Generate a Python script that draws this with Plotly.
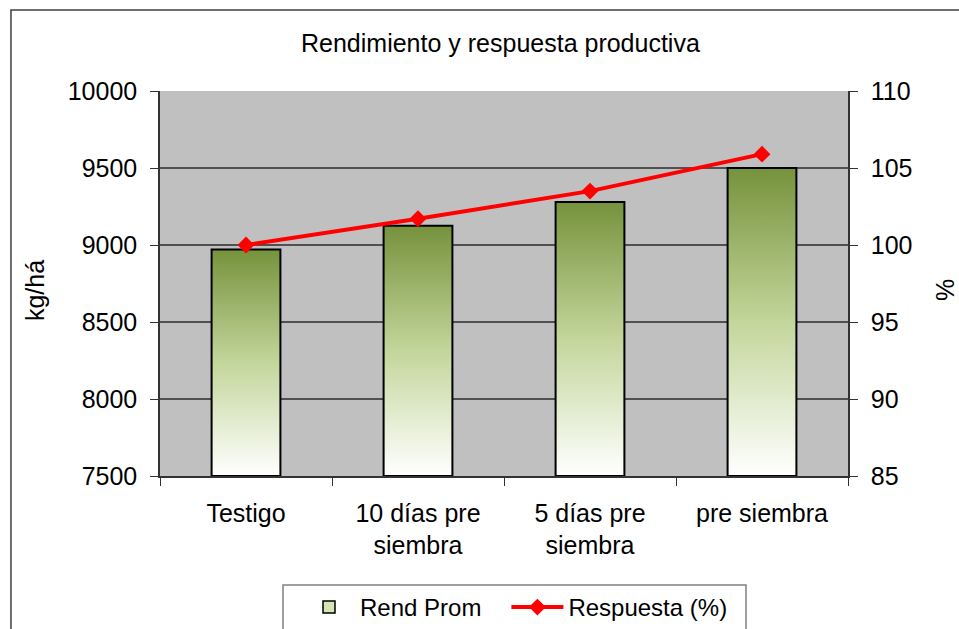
import plotly.graph_objects as go

categories = ["Testigo", "10 días pre<br>siembra", "5 días pre<br>siembra", "pre siembra"]
rend_prom = [8970, 9125, 9280, 9500]
respuesta = [100.0, 101.7, 103.5, 105.9]
y_left_ticks = [7500, 8000, 8500, 9000, 9500, 10000]
y_left_text = ["7500", "8000", "8500", "9000", "9500", "10000"]
y_right_ticks = [85, 90, 95, 100, 105, 110]

BASE = 7500
HALF = 0.2
grad = dict(type="vertical",
            colorscale=[[0, "#FFFFFF"], [0.5, "#C3D69B"], [1, "#76923C"]])

fig = go.Figure()
# legend-only entry for the bars
fig.add_trace(go.Bar(x=[None], y=[None], name="Rend Prom\u00a0\u00a0\u00a0",
                     marker=dict(color="#D5E3B5", line=dict(color="black", width=1.5))))
for i, v in enumerate(rend_prom):
    fig.add_trace(go.Scatter(
        x=[i - HALF, i - HALF, i + HALF, i + HALF, i - HALF],
        y=[BASE, v, v, BASE, BASE],
        mode="lines", fill="toself", fillgradient=grad,
        line=dict(color="black", width=2),
        name="Rend Prom", showlegend=False,
        hoverinfo="skip"))

fig.add_trace(go.Scatter(
    x=list(range(len(categories))), y=respuesta, yaxis="y2",
    mode="lines+markers", name="Respuesta (%)",
    line=dict(color="#FF0000", width=4),
    marker=dict(symbol="diamond", size=13, color="#FF0000")))

FONT = "Liberation Sans, Arial, sans-serif"
fig.update_layout(
    width=959, height=629,
    margin=dict(l=160, r=111, t=91, b=153),
    paper_bgcolor="white", plot_bgcolor="#C0C0C0",
    font=dict(family=FONT, size=25, color="black"),
    showlegend=True,
    legend=dict(orientation="h", xref="container", yref="container",
                x=298 / 959, xanchor="left",
                y=1 - 585 / 629, yanchor="top",
                borderwidth=0, bgcolor="rgba(0,0,0,0)",
                font=dict(size=24), traceorder="normal", itemwidth=52),
    xaxis=dict(range=[-0.5, 3.5], tickmode="array",
               tickvals=list(range(len(categories))), ticktext=categories,
               ticks="", showgrid=False, zeroline=False,
               showline=True, linecolor="#333333", linewidth=1.5,
               ticklabelstandoff=14,
               minor=dict(tickmode="array", tickvals=[-0.5, 0.5, 1.5, 2.5, 3.5],
                          ticks="outside", ticklen=8, tickcolor="#333333", showgrid=False),
               tickfont=dict(size=25)),
    yaxis=dict(range=[7500, 10000], tickmode="array", tickvals=y_left_ticks,
               ticktext=y_left_text,
               ticks="outside", ticklen=8, tickcolor="#333333",
               showgrid=True, gridcolor="#505050", gridwidth=1.5, zeroline=False,
               showline=True, linecolor="#333333", linewidth=1.5,
               ticklabelstandoff=8,
               tickfont=dict(size=25)),
    yaxis2=dict(range=[85, 110], tickmode="array", tickvals=y_right_ticks,
                overlaying="y", side="right",
                ticks="outside", ticklen=8, tickcolor="#333333",
                showgrid=False, zeroline=False,
                showline=True, linecolor="#333333", linewidth=1.5,
                ticklabelstandoff=8,
                tickfont=dict(size=25)),
    annotations=[
        dict(text="Rendimiento y respuesta productiva", xref="paper", yref="paper",
             x=0.4956, y=1.1247, xanchor="center", yanchor="middle",
             showarrow=False, font=dict(size=25)),
        dict(text="kg/há", xref="paper", yref="paper", x=-0.1817, y=0.483,
             xanchor="center", yanchor="middle", textangle=-90, showarrow=False,
             font=dict(size=25)),
        dict(text="%", xref="paper", yref="paper", x=1.141, y=0.483,
             xanchor="center", yanchor="middle", textangle=-90, showarrow=False,
             font=dict(size=25)),
    ],
    shapes=[
        dict(type="rect", xref="paper", yref="paper",
             x0=-0.2166, y0=-0.6, x1=1.5, y1=1.2104,
             line=dict(color="#404040", width=1.5), fillcolor="rgba(0,0,0,0)",
             layer="below"),
        dict(type="rect", xref="paper", yref="paper",
             x0=(283 - 160) / 688, x1=(746 - 160) / 688,
             y0=(476 - 640) / 385, y1=(476 - 585) / 385,
             line=dict(color="#808080", width=1.5), fillcolor="rgba(0,0,0,0)"),
    ],
)

fig.write_html("out.html", config={"displayModeBar": False},
               post_script="document.body.style.margin='0px';")
